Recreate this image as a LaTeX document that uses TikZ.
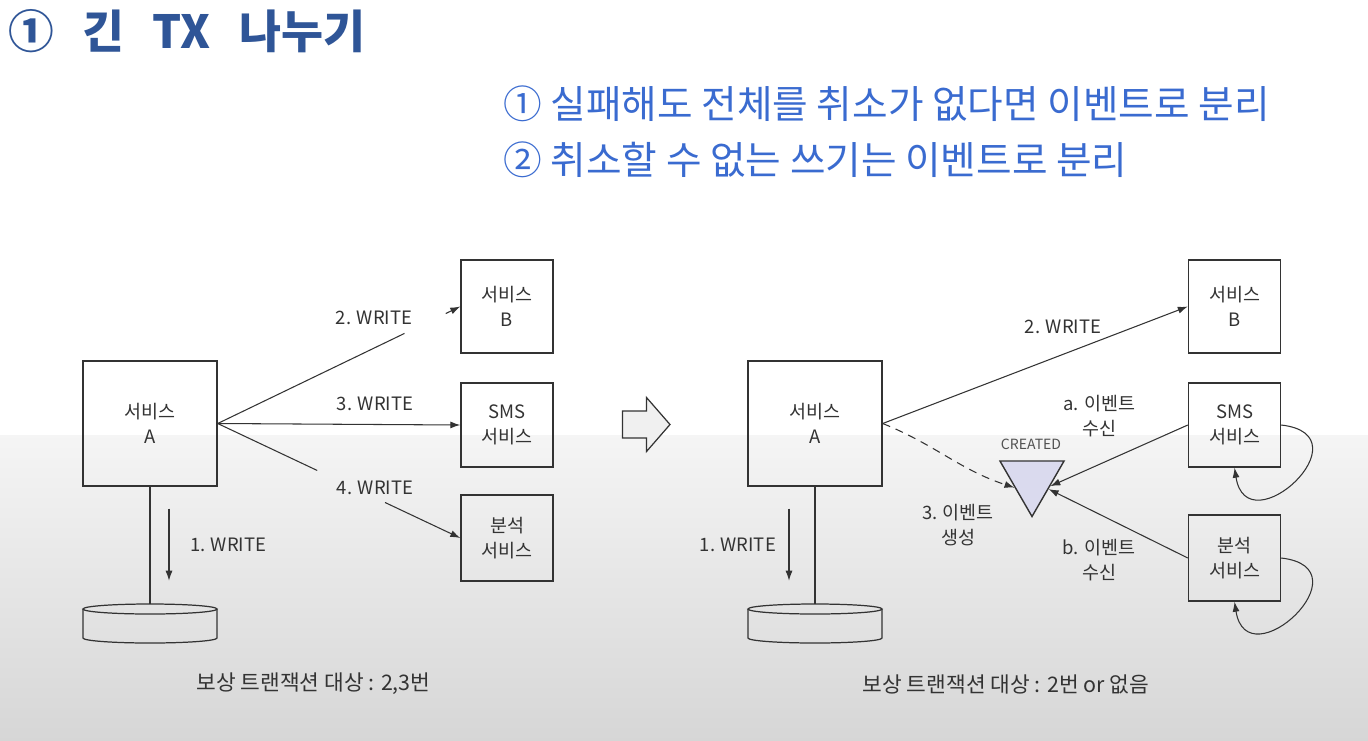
\documentclass[tikz,border=0pt]{standalone}
\usepackage{fontspec}
\setmainfont{Noto Sans CJK KR}
\usetikzlibrary{arrows.meta,positioning,shapes.geometric,calc}
\definecolor{titleblue}{RGB}{47,85,151}
\definecolor{subblue}{RGB}{58,107,208}
\definecolor{ink}{RGB}{51,51,51}
\definecolor{evfill}{RGB}{218,218,238}
\definecolor{arrowfill}{RGB}{240,240,240}

\begin{document}
\begin{tikzpicture}[>=Latex,
  box/.style={draw=ink,line width=0.8pt,minimum width=1.84cm,minimum height=1.72cm,align=center,text=ink,font=\fontsize{10.5}{14}\selectfont,inner sep=1pt},
  bigbox/.style={box,minimum width=2.68cm,minimum height=2.5cm},
  lbl/.style={text=ink,align=center,font=\fontsize{10.5}{14}\selectfont,inner sep=1pt},
  dbbox/.style={minimum width=2.68cm,minimum height=0.78cm,inner sep=0pt,outer sep=0pt},
  wire/.style={draw=ink,line width=0.6pt},
  arr/.style={-{Latex[length=2mm,width=1.4mm]}}]
\useasboundingbox (0,0) rectangle (27.36,-14.8);
\fill[white] (0,0) rectangle (27.36,-8.7);
\shade[top color=black!4,bottom color=black!16] (0,-8.7) rectangle (27.36,-14.8);

% heading
\node[anchor=west,text=titleblue,font=\fontsize{26}{30}\selectfont\bfseries,inner sep=0pt] (title) at (0.16,-0.62) {①\hspace{0.62em}긴\hspace{0.62em}TX\hspace{0.62em}나누기};
\node[anchor=west,text=subblue,font=\fontsize{22}{26}\selectfont,inner sep=0pt] (sub1) at (10.06,-2.08) {① 실패해도 전체를 취소가 없다면 이벤트로 분리};
\node[anchor=west,text=subblue,font=\fontsize{22}{26}\selectfont,inner sep=0pt] (sub2) at (10.06,-3.20) {② 취소할 수 없는 쓰기는 이벤트로 분리};

% before
\node[bigbox] (la) at (3.0,-8.47) {서비스\\A};
\node[box,minimum height=1.86cm] (lb) at (10.14,-6.13) {서비스\\B};
\node[box,minimum height=1.68cm] (lsms) at (10.14,-8.50) {SMS\\서비스};
\node[box] (lana) at (10.14,-10.76) {분석\\서비스};
\node[dbbox] (ldb) at (3.0,-12.47) {};

% after
\node[bigbox] (ra) at (16.30,-8.47) {서비스\\A};
\node[box,minimum height=1.86cm] (rb) at (24.69,-6.13) {서비스\\B};
\node[box,minimum height=1.68cm] (rsms) at (24.69,-8.50) {SMS\\서비스};
\node[box] (rana) at (24.69,-11.16) {분석\\서비스};
\node[dbbox] (rdb) at (16.30,-12.47) {};
\node[draw=ink,line width=0.8pt,fill=evfill,regular polygon,regular polygon sides=3,shape border rotate=180,minimum size=1.48cm,inner sep=0pt] (ev) at (20.64,-9.59) {};

% labels
\node[lbl] (w2l) at (7.48,-6.36) {2. WRITE};
\node[lbl] (w3l) at (7.50,-8.08) {3. WRITE};
\node[lbl] (w4l) at (7.50,-9.76) {4. WRITE};
\node[lbl,anchor=west] (w1l) at (3.76,-10.9) {1. WRITE};
\node[lbl,anchor=east] (w1r) at (15.56,-10.9) {1. WRITE};
\node[lbl] (w2r) at (21.26,-6.54) {2. WRITE};
\node[lbl] (rcva) at (21.98,-8.32) {a. 이벤트\\수신};
\node[lbl] (rcvb) at (21.98,-11.2) {b. 이벤트\\수신};
\node[lbl] (mk) at (19.16,-10.5) {3. 이벤트\\생성};
\node[lbl,font=\fontsize{8}{10}\selectfont,text=ink!85] (crt) at (20.62,-8.88) {CREATED};
\node[lbl,font=\fontsize{12.2}{14}\selectfont] (capl) at (6.27,-13.68) {보상 트랜잭션 대상 : 2,3번};
\node[lbl,font=\fontsize{12.2}{14}\selectfont] (capr) at (20.12,-13.68) {보상 트랜잭션 대상 : 2번 or 없음};

% db cylinders
\foreach \db in {ldb,rdb}{
  \draw[wire,line width=0.7pt] ([yshift=-1mm]\db.north west) -- ([yshift=1mm]\db.south west)
    arc[start angle=180,end angle=360,x radius=1.34cm,y radius=1mm] -- ([yshift=-1mm]\db.north east);
  \draw[wire,line width=0.7pt] ([yshift=-1mm]\db.north) ellipse[x radius=1.34cm,y radius=1mm];
}
\draw[wire] (la.south) -- (ldb.north);
\draw[wire] (ra.south) -- (rdb.north);

\coordinate (l1a) at ([xshift=0.38cm,yshift=-0.44cm]la.south);
\coordinate (l1b) at ([xshift=0.38cm,yshift=-1.88cm]la.south);
\coordinate (r1a) at ([xshift=-0.52cm,yshift=-0.44cm]ra.south);
\coordinate (r1b) at ([xshift=-0.52cm,yshift=-1.88cm]ra.south);
\draw[wire,arr] (l1a) -- (l1b);
\draw[wire,arr] (r1a) -- (r1b);

% left writes
\draw[wire] (la.east) -- ($(la.east)!0.77!(lb.west)$);
\draw[wire,arr] ($(la.east)!0.94!(lb.west)$) -- (lb.west);
\draw[wire,arr] (la.east) -- (lsms.west);
\draw[wire] (la.east) -- ($(la.east)!0.41!(lana.west)$);
\draw[wire,arr] ($(la.east)!0.69!(lana.west)$) -- (lana.west);

% right: event
\draw[wire,arr] (ra.east) -- (rb.west);
\draw[wire,arr,dash pattern=on 1.6mm off 1.2mm] (ra.east) to[out=-22,in=162] (ev.205);
\draw[wire,arr] (rsms.west) -- (ev.-20);
\draw[wire,arr] (rana.west) -- (ev.-30);
\draw[wire,arr] (rsms.east) .. controls +(1.75,-0.2) and +(0.25,-1.6) .. (rsms.south);
\draw[wire,arr] (rana.east) .. controls +(1.75,-0.2) and +(0.25,-1.6) .. (rana.south);

% big arrow
\draw[draw=ink,line width=0.7pt,fill=arrowfill,line join=miter] (12.45,-8.22) -- (12.93,-8.22) -- (12.93,-7.95) -- (13.40,-8.49) -- (12.93,-9.03) -- (12.93,-8.76) -- (12.45,-8.76) -- cycle;
\end{tikzpicture}
\end{document}
